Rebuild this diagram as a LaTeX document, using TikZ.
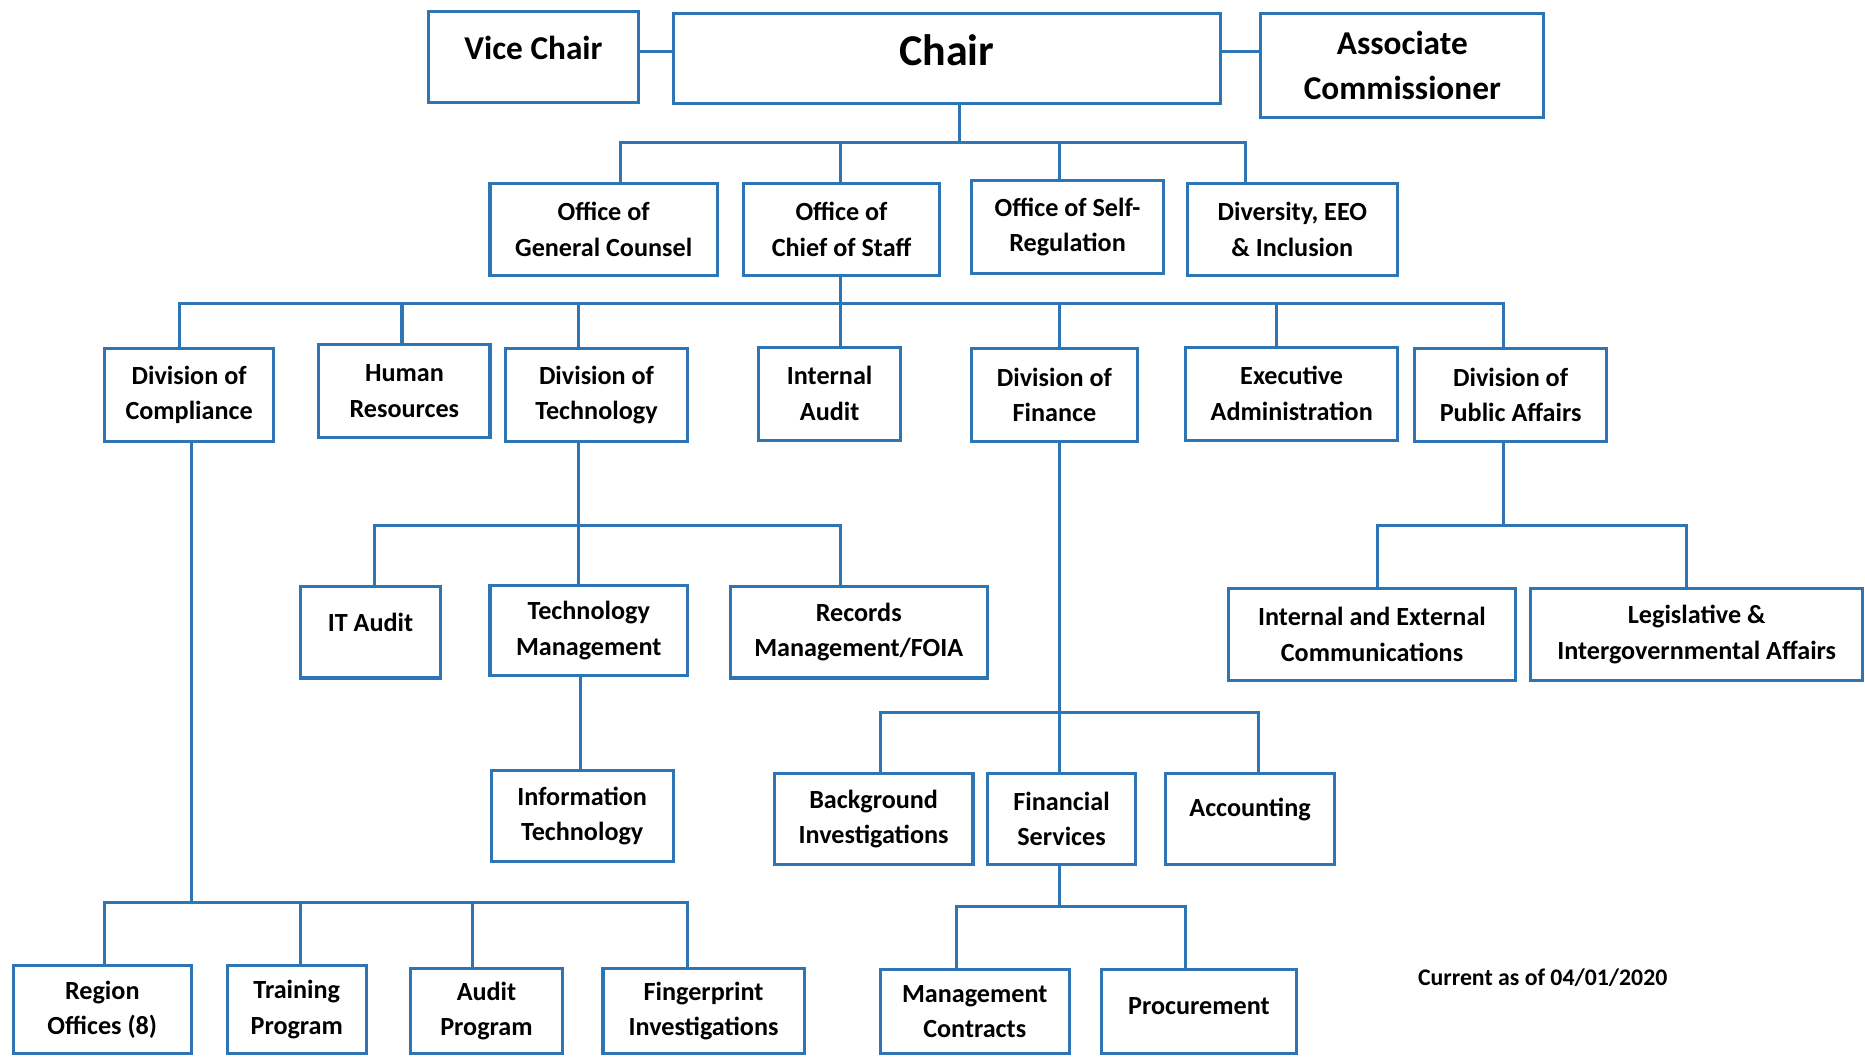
\documentclass[tikz,border=0pt]{standalone}
\usepackage{fontspec}
\setmainfont{Carlito}
\definecolor{orgblue}{RGB}{46,117,182}
\tikzset{
  box/.style={draw=orgblue, line width=2.6pt, inner sep=0pt, align=center,
    font=\fontsize{22}{30}\selectfont\bfseries, text=black},
  wire/.style={draw=orgblue, line width=2.6pt, line cap=rect},
  bigt/.style={font=\fontsize{28}{38}\selectfont\bfseries, text=black},
  huget/.style={font=\fontsize{37}{44}\selectfont\bfseries, text=black},
  normt/.style={font=\fontsize{22}{30}\selectfont\bfseries, text=black},
  notet/.style={font=\fontsize{20}{24}\selectfont\bfseries, text=black, inner sep=0pt},
}
% [opts]{name}{x1}{y1}{x2}{y2}{text}
\newcommand\bx[7][]{\node[box,#1,minimum width={(#5-#3)*1pt},minimum height={(#6-#4)*1pt}] (#2) at ({(#3+#5)/2},{(#4+#6)/2}) {#7};}
\begin{document}
\begin{tikzpicture}[x=1pt,y=-1pt]
\useasboundingbox (0,0) rectangle (1568,890);
% top row
\bx[label={[bigt,yshift=8pt]center:Vice Chair}]{vc}{360}{10}{537}{86}{}
\bx[label={[huget,yshift=7pt]center:Chair}]{ch}{566}{11}{1026}{87}{}
\bx[bigt]{ac}{1060}{11}{1298}{99}{Associate\\Commissioner}
% row 1
\bx{gc}{412}{154}{603}{232}{Office of\\General Counsel}
\bx{cs}{625}{154}{790}{232}{Office of\\Chief of Staff}
\bx{sr}{817}{152}{978}{230}{Office of Self-\\Regulation}
\bx{dv}{998}{154}{1175}{232}{Diversity, EEO\\\& Inclusion}
% row 2
\bx{co}{88}{293}{230}{371}{Division of\\Compliance}
\bx{hr}{268}{290}{412}{368}{Human\\Resources}
\bx{te}{425}{293}{578}{371}{Division of\\Technology}
\bx{ia}{638}{292}{757}{370}{Internal\\Audit}
\bx{fi}{817}{293}{956}{371}{Division of\\Finance}
\bx{ea}{997}{292}{1175}{370}{Executive\\Administration}
\bx{pa}{1189}{293}{1351}{371}{Division of\\Public Affairs}
% row 3
\bx[label={[normt,yshift=8pt]center:IT Audit}]{it}{253}{493}{370}{570}{}
\bx{tm}{412}{492}{578}{568}{Technology\\Management}
\bx{rm}{614}{493}{830}{570}{Records\\Management/FOIA}
\bx{ie}{1033}{495}{1274}{572}{Internal and External\\Communications}
\bx{lg}{1287}{495}{1566}{572}{Legislative \&\\Intergovernmental Affairs}
% row 4
\bx{in}{413}{648}{566}{724}{Information\\Technology}
\bx{bg}{651}{650}{818}{727}{Background\\Investigations}
\bx{fs}{830}{650}{955}{727}{Financial\\Services}
\bx[label={[normt,yshift=8pt]center:Accounting}]{acc}{980}{650}{1122}{727}{}
% row 5
\bx{rg}{11}{812}{161}{886}{Region\\Offices (8)}
\bx{tr}{191}{812}{308}{886}{Training\\Program}
\bx{ap}{345}{814}{473}{886}{Audit\\Program}
\bx{fp}{507}{814}{676}{886}{Fingerprint\\Investigations}
\bx{mc}{740}{815}{899}{886}{Management\\Contracts}
\bx[label={[normt,yshift=5pt]center:Procurement}]{pr}{926}{815}{1090}{886}{}
\node[notet] (note) at (1297,822) {Current as of 04/01/2020};

% --- connectors ---
\draw[wire] ([yshift=5pt]vc.east) -- ([yshift=5pt]vc.east -| ch.west);
\draw[wire] ([yshift=6pt]ch.east) -- ([yshift=6pt]ch.east -| ac.west);

% chair -> row 1
\coordinate (j0) at (807,120);
\coordinate (j0a) at (522,120);
\coordinate (j0b) at (707,120);
\coordinate (j0c) at (891,120);
\coordinate (j0d) at (1047,120);
\draw[wire] (ch.south -| j0) -- (j0);
\draw[wire] (j0a) -- (j0d);
\draw[wire] (j0a) -- (j0a |- gc.north);
\draw[wire] (j0b) -- (j0b |- cs.north);
\draw[wire] (j0c) -- (j0c |- sr.north);
\draw[wire] (j0d) -- (j0d |- dv.north);

% chief of staff -> row 2
\coordinate (j1a) at (151,255);
\coordinate (j1b) at (338,255);
\coordinate (j1c) at (486,255);
\coordinate (j1d) at (707,255);
\coordinate (j1e) at (891,255);
\coordinate (j1f) at (1073,255);
\coordinate (j1g) at (1264,255);
\draw[wire] (cs.south -| j1d) -- (j1d);
\draw[wire] (j1a) -- (j1g);
\draw[wire] (j1a) -- (j1a |- co.north);
\draw[wire] (j1b) -- (j1b |- hr.north);
\draw[wire] (j1c) -- (j1c |- te.north);
\draw[wire] (j1d) -- (j1d |- ia.north);
\draw[wire] (j1e) -- (j1e |- fi.north);
\draw[wire] (j1f) -- (j1f |- ea.north);
\draw[wire] (j1g) -- (j1g |- pa.north);

% technology -> row 3
\coordinate (j2) at (486,442);
\coordinate (j2a) at (315,442);
\coordinate (j2c) at (707,442);
\draw[wire] (te.south -| j2) -- (j2);
\draw[wire] (j2a) -- (j2c);
\draw[wire] (j2a) -- (j2a |- it.north);
\draw[wire] (j2) -- (j2 |- tm.north);
\draw[wire] (j2c) -- (j2c |- rm.north);
\coordinate (j2t) at (488,600);
\draw[wire] (tm.south -| j2t) -- (in.north -| j2t);

% public affairs -> row 3
\coordinate (j3) at (1264,442);
\coordinate (j3a) at (1158,442);
\coordinate (j3b) at (1418,442);
\draw[wire] (pa.south -| j3) -- (j3);
\draw[wire] (j3a) -- (j3b);
\draw[wire] (j3a) -- (j3a |- ie.north);
\draw[wire] (j3b) -- (j3b |- lg.north);

% finance -> row 4
\coordinate (j4) at (891,599);
\coordinate (j4a) at (740,599);
\coordinate (j4c) at (1058,599);
\draw[wire] (fi.south -| j4) -- (j4);
\draw[wire] (j4a) -- (j4c);
\draw[wire] (j4a) -- (j4a |- bg.north);
\draw[wire] (j4) -- (j4 |- fs.north);
\draw[wire] (j4c) -- (j4c |- acc.north);

% financial services -> row 5
\coordinate (j5) at (891,762);
\coordinate (j5a) at (804,762);
\coordinate (j5b) at (997,762);
\draw[wire] (fs.south -| j5) -- (j5);
\draw[wire] (j5a) -- (j5b);
\draw[wire] (j5a) -- (j5a |- mc.north);
\draw[wire] (j5b) -- (j5b |- pr.north);

% compliance -> row 5
\coordinate (j6) at (161,759);
\coordinate (j6a) at (88,759);
\coordinate (j6b) at (253,759);
\coordinate (j6c) at (397,759);
\coordinate (j6d) at (578,759);
\draw[wire] (co.south -| j6) -- (j6);
\draw[wire] (j6a) -- (j6d);
\draw[wire] (j6a) -- (j6a |- rg.north);
\draw[wire] (j6b) -- (j6b |- tr.north);
\draw[wire] (j6c) -- (j6c |- ap.north);
\draw[wire] (j6d) -- (j6d |- fp.north);
\end{tikzpicture}
\end{document}
